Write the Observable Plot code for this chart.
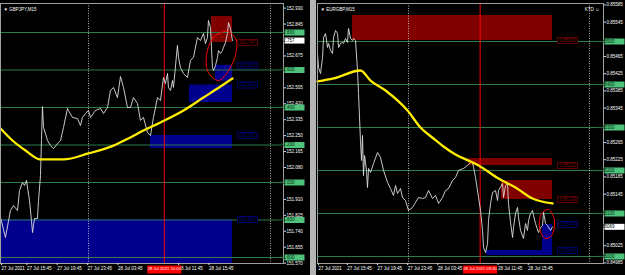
<!DOCTYPE html>
<html><head><meta charset="utf-8">
<script src="https://cdn.jsdelivr.net/npm/d3@7"></script>
<script src="https://cdn.jsdelivr.net/npm/@observablehq/plot@0.6"></script>
<style>
html,body{margin:0;padding:0;background:#b4b4b4;}
#wrap{position:relative;width:625px;height:275px;overflow:hidden;background:#b4b4b4;}
.panel{position:absolute;top:0;}
.panel svg{display:block;}
</style></head>
<body><div id="wrap"><div id="left" class="panel" style="left:0"></div><div id="right" class="panel" style="left:316px"></div></div>
<script>
// ---------- shared time axis (hours since 27 Jul 2021 00:00) ----------
// the 28 Jul 07:45 label is hidden under the red time marker in the reference
const timeTickHours = [15.75, 19.75, 23.75, 27.75, 35.75, 39.75];
const timeTickLabels = ["27 Jul 15:45","27 Jul 19:45","27 Jul 23:45","28 Jul 03:45","28 Jul 11:45","28 Jul 15:45"];
const firstLabel = "27 Jul 2021";
const daySeparators = [24, 48];

// ---------- GBPJPY M15 ----------
const gjTitle = "▼ GBPJPY,M15";
const gjTime = [12.40,13.05,13.71,14.11,14.64,14.90,15.30,15.56,15.82,16.22,16.48,16.62,16.88,17.27,17.41,17.67,17.80,17.93,18.07,18.33,18.59,18.99,19.38,20.04,20.31,20.70,21.23,21.36,21.89,22.55,22.94,23.21,23.60,24.00,24.26,24.92,25.58,25.98,26.51,26.90,27.30,27.82,28.22,28.62,29.14,29.54,29.93,30.46,30.86,31.25,31.78,32.18,32.57,33.10,33.49,33.89,34.15,34.42,34.55,34.81,35.08,35.21,35.73,35.87,36.13,36.53,37.05,37.45,37.85,38.37,38.77,39.16,39.43,39.69,39.82,40.09,40.35,40.48,40.75,41.01,41.14,41.41,41.67,41.80,42.07,42.33,42.46,42.73,42.99];
const gjClose = [151.813,151.707,151.851,151.877,151.851,151.957,152.000,151.984,152.011,151.904,151.797,151.733,151.808,151.808,151.904,152.037,152.224,152.405,152.293,152.261,152.224,152.197,152.181,152.213,152.224,152.293,152.395,152.384,152.347,152.341,152.304,152.347,152.368,152.384,152.347,152.384,152.395,152.368,152.400,152.491,152.507,152.453,152.565,152.507,152.400,152.400,152.453,152.421,152.331,152.347,152.267,152.251,152.347,152.453,152.437,152.560,152.528,152.581,152.507,152.491,152.544,152.507,152.731,152.667,152.613,152.581,152.560,152.651,152.667,152.773,152.757,152.795,152.741,152.773,152.864,152.827,152.613,152.597,152.624,152.667,152.704,152.688,152.704,152.720,152.747,152.795,152.853,152.821,152.757];
const gjMaTime = [12.40,13.97,15.69,17.67,20.70,24.00,27.30,29.27,31.25,33.49,36.53,39.16,41.41,42.99];
const gjMa = [152.288,152.224,152.171,152.123,152.123,152.155,152.197,152.235,152.277,152.320,152.384,152.453,152.512,152.555];
const gjZoneStart = [40.22, 40.75, 37.32, 32.18, 12.40];
const gjZoneEnd   = [42.99, 42.99, 42.99, 42.99, 42.99];
const gjZoneHigh  = [152.885, 152.625, 152.520, 152.251, 151.803];
const gjZoneLow   = [152.747, 152.539, 152.427, 152.181, 151.568];
const gjZoneType  = ["supply","demand","demand","demand","demand"];
const gjLevels = [152.8, 152.6, 152.4, 152.2, 152.0, 151.8, 151.6];
const gjTicks = [152.930,152.845,152.675,152.505,152.420,152.335,152.250,152.165,152.080,151.910,151.825,151.740,151.655,151.570];
const gjCurrent = 152.757;
const gjMarkTime = 34.0;
const gjMarkLabel = "28 Jul 2021 10:00";
const gjEllTime  = [42.33, 43.52, 42.99, 41.14, 39.69, 39.69, 40.62];
const gjEllPrice = [152.805, 152.757, 152.635, 152.544, 152.597, 152.704, 152.779];

// ---------- EURGBP M15 ----------
const egTitle = "▼ EURGBP,M15";
const egTime = [11.93,12.07,12.33,12.60,12.73,13.00,13.26,13.39,13.66,13.92,14.06,14.32,14.59,14.72,14.98,15.25,15.38,15.65,15.91,16.04,16.31,16.57,16.71,16.97,17.24,17.37,17.63,17.77,17.90,18.03,18.17,18.43,18.56,18.70,18.96,19.36,19.89,20.29,20.69,21.22,21.61,22.01,22.28,22.54,22.94,23.20,23.60,24.00,24.53,24.93,25.33,25.86,26.25,26.65,27.18,27.58,27.98,28.51,28.91,29.31,29.84,30.23,30.63,31.30,31.83,32.23,32.49,32.63,32.89,33.29,33.55,33.82,33.95,34.22,34.48,34.61,34.88,35.14,35.54,35.81,35.94,36.47,36.60,36.87,37.13,37.26,37.53,37.80,37.93,38.19,38.46,38.59,38.86,39.25,39.52,39.78,39.92,40.18,40.45,40.58,40.84,41.24,41.51,41.77,41.91,42.17,42.44,42.83,43.10];
const egClose = [0.854721,0.854395,0.854256,0.854628,0.855093,0.855186,0.854861,0.854954,0.854791,0.854721,0.855093,0.855256,0.855186,0.854861,0.854954,0.854977,0.854954,0.855070,0.854977,0.855302,0.855070,0.855023,0.855070,0.855023,0.854326,0.853791,0.852698,0.852233,0.852815,0.851884,0.852349,0.851999,0.851605,0.852047,0.851954,0.852163,0.852419,0.852303,0.852000,0.851721,0.851581,0.851419,0.851651,0.851465,0.851581,0.851372,0.851302,0.851070,0.851140,0.851256,0.851372,0.851349,0.851372,0.851535,0.851349,0.851419,0.851233,0.851372,0.851535,0.851581,0.851767,0.851837,0.852000,0.852047,0.852116,0.852186,0.852186,0.852070,0.851837,0.851372,0.851070,0.850605,0.850209,0.850093,0.850302,0.850837,0.851233,0.851488,0.851535,0.851302,0.851535,0.851698,0.851372,0.851651,0.851698,0.851233,0.850791,0.850442,0.850674,0.851000,0.851140,0.850907,0.850605,0.850419,0.850767,0.850605,0.850837,0.851000,0.851070,0.850953,0.850767,0.850558,0.850674,0.850721,0.851023,0.850767,0.850721,0.850605,0.850690];
const egMaTime = [11.93,14.06,17.63,18.96,20.95,23.87,25.59,27.32,28.64,30.23,32.23,33.29,35.94,38.19,40.45,43.10];
const egMa = [0.854070,0.854140,0.854326,0.854093,0.853861,0.853395,0.853000,0.852744,0.852558,0.852372,0.852209,0.852116,0.851814,0.851605,0.851349,0.851233];
const egZoneStart = [16.57, 31.96, 36.33, 41.77, 34.34];
const egZoneEnd   = [43.10, 43.10, 43.10, 43.10, 43.10];
const egZoneHigh  = [0.855605, 0.852279, 0.851767, 0.850744, 0.850140];
const egZoneLow   = [0.855023, 0.852116, 0.851326, 0.850140, 0.850023];
const egZoneType  = ["supply","supply","supply","demand","demand"];
const egLevels = [0.855, 0.854, 0.853, 0.852, 0.851, 0.850];
const egTicks = [0.85585,0.85545,0.85465,0.85425,0.85385,0.85345,0.85265,0.85225,0.85185,0.85145,0.85025,0.84985];
const egCurrent = 0.85069;
const egMarkTime = 33.5;
const egMarkLabel = "28 Jul 2021 09:30";
const egEllTime  = [42.57, 43.37, 42.97, 42.17, 41.38, 41.64];
const egEllPrice = [0.851093, 0.850837, 0.850488, 0.850419, 0.850651, 0.851000];

// ---------- drawing ----------
const box = (w, h) => ({draw(ctx){ ctx.moveTo(-w/2,-h/2); ctx.lineTo(w/2,-h/2); ctx.lineTo(w/2,h/2); ctx.lineTo(-w/2,h/2); ctx.closePath(); }});

function panel(c) {
  const series = c.time.map((h, i) => ({h, p: c.close[i]}));
  const ma = c.maTime.map((h, i) => ({h, p: c.ma[i]}));
  const ell = c.ellTime.map((h, i) => ({h, p: c.ellPrice[i]}));
  const zones = c.zoneStart.map((s, i) => ({
    x1: s, x2: c.zoneEnd[i], y1: c.zoneLow[i], y2: c.zoneHigh[i], type: c.zoneType[i],
    label: c.zoneType[i] === "supply" ? c.zoneLow[i] : c.zoneHigh[i]
  }));
  const col = t => t === "supply" ? "#800000" : "#00008c";
  const fmt = d => d.toFixed(c.dec);
  const xt = [c.time[0], ...timeTickHours];
  const xl = new Map(xt.map((t, i) => [t, i === 0 ? firstLabel : timeTickLabels[i - 1]]));
  const marks = [
    Plot.rect(zones, {x1: "x1", x2: "x2", y1: "y1", y2: "y2", fill: d => col(d.type)}),
    Plot.ruleY(c.levels, {stroke: "#2b7d4c", strokeWidth: 1}),
    Plot.ruleX(daySeparators, {stroke: "#d8d8d8", strokeWidth: 0.8, strokeDasharray: "1,1.5"}),
    Plot.ruleX([c.mark], {stroke: "#ff0000", strokeWidth: 1}),
    Plot.line(series, {x: "h", y: "p", stroke: "#dedede", strokeWidth: 0.9}),
    Plot.line(ma, {x: "h", y: "p", stroke: "#ffee00", strokeWidth: 2.3, curve: "monotone-x"}),
    Plot.line(ell, {x: "h", y: "p", stroke: "#ff0000", strokeWidth: 1, curve: "catmull-rom-closed"}),
    Plot.dot(zones, {x: "x2", y: "label", dx: 15, symbol: box(20, 6), r: 3, fill: "#000", stroke: d => col(d.type), strokeWidth: 0.8}),
    Plot.text(zones, {x: "x2", y: "label", dx: 15, text: d => fmt(d.label), fill: d => col(d.type)}),
    Plot.frame({stroke: "#a0a0a0"}),
    Plot.axisY(c.ticks, {anchor: "right", tickFormat: fmt, tickSize: 2, tickPadding: 1, stroke: "#ddd"}),
    Plot.dot(c.levels, {y: d => d, frameAnchor: "right", dx: c.boxDx, symbol: box(c.boxW, 6), r: 3, fill: "#4fc27b"}),
    Plot.text(c.levels, {y: d => d, frameAnchor: "right", dx: c.boxDx, text: fmt, fill: "#002a0c"}),
    Plot.dot([c.current], {y: d => d, frameAnchor: "right", dx: c.boxDx, symbol: box(c.boxW, 6), r: 3, fill: "#ffffff"}),
    Plot.text([c.current], {y: d => d, frameAnchor: "right", dx: c.boxDx, text: fmt, fill: "#000"}),
    Plot.axisX(xt, {anchor: "bottom", tickFormat: d => xl.get(d), textAnchor: "start", dx: 1, tickSize: 2, tickPadding: 1, stroke: "#ddd"}),
    Plot.dot([c.mark], {x: d => d, frameAnchor: "bottom", dy: 6, symbol: box(34, 8), r: 3, fill: "#ff0000"}),
    Plot.text([c.mark], {x: d => d, frameAnchor: "bottom", dy: 6, text: () => c.markLabel, fill: "#fff", fontSize: 4.2}),
    Plot.text([c.title], {frameAnchor: "top-left", dx: 3, dy: 4, textAnchor: "start", text: d => d, fill: "#fff"})
  ];
  if (c.badge) marks.push(Plot.text([c.badge], {frameAnchor: "top-right", dx: -4, dy: 4, textAnchor: "end", text: d => d, fill: "#fff"}));
  return Plot.plot({
    width: c.width, height: 275,
    marginLeft: c.ml, marginRight: c.mr, marginTop: 3, marginBottom: 12,
    style: {background: "#000", color: "#fff", fontFamily: "'Liberation Sans', Arial, sans-serif", fontSize: "4.5px"},
    x: {domain: c.xDomain},
    y: {domain: c.yDomain},
    marks
  });
}

document.getElementById("left").append(panel({
  width: 310, ml: 0, mr: 27, dec: 3, boxDx: 11, boxW: 20,
  xDomain: [12.395, 49.72], yDomain: [151.568, 152.9547],
  time: gjTime, close: gjClose, maTime: gjMaTime, ma: gjMa,
  zoneStart: gjZoneStart, zoneEnd: gjZoneEnd, zoneHigh: gjZoneHigh, zoneLow: gjZoneLow, zoneType: gjZoneType,
  levels: gjLevels, ticks: gjTicks, current: gjCurrent, mark: gjMarkTime, markLabel: gjMarkLabel,
  ellTime: gjEllTime, ellPrice: gjEllPrice, title: gjTitle
}));
document.getElementById("right").append(panel({
  width: 309, ml: 1, mr: 22, dec: 5, boxDx: 11, boxW: 20,
  xDomain: [11.93, 49.86], yDomain: [0.849837, 0.855884],
  time: egTime, close: egClose, maTime: egMaTime, ma: egMa,
  zoneStart: egZoneStart, zoneEnd: egZoneEnd, zoneHigh: egZoneHigh, zoneLow: egZoneLow, zoneType: egZoneType,
  levels: egLevels, ticks: egTicks, current: egCurrent, mark: egMarkTime, markLabel: egMarkLabel,
  ellTime: egEllTime, ellPrice: egEllPrice, title: egTitle, badge: "KTD ☺"
}));
</script>
</body></html>
